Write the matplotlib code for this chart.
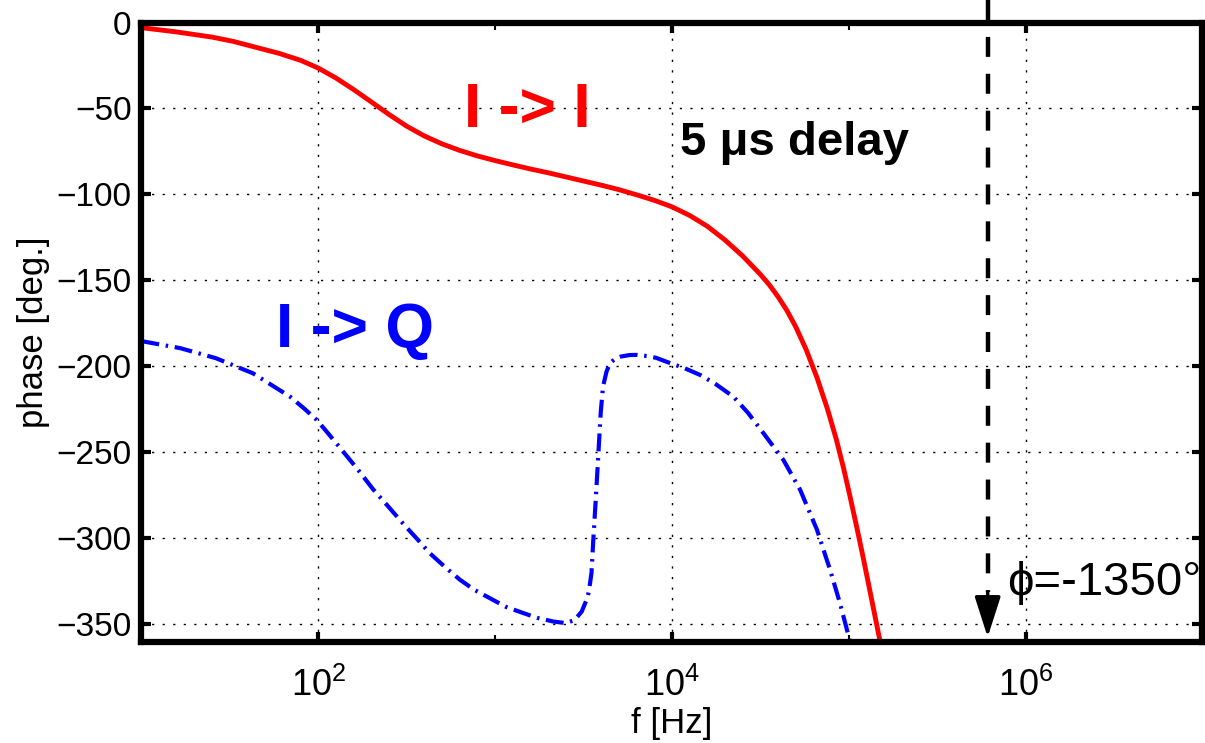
import numpy as np
import matplotlib
matplotlib.use("Agg")
import matplotlib.pyplot as plt
from matplotlib.ticker import FixedLocator, NullFormatter

plt.rcParams['font.family'] = ['Liberation Sans', 'DejaVu Sans']
plt.rcParams['mathtext.fontset'] = 'custom'
plt.rcParams['mathtext.rm'] = 'Liberation Sans'
plt.rcParams['mathtext.it'] = 'Liberation Sans'

# I -> I phase, log10(f) and degrees
ii_logf = [1.0, 1.2, 1.4, 1.52, 1.65, 1.78, 1.9, 2.0, 2.1, 2.2, 2.3, 2.4, 2.5, 2.6,
           2.7, 2.8, 2.9, 3.0, 3.1, 3.2, 3.3, 3.4, 3.5, 3.6, 3.7, 3.8, 3.9, 4.0,
           4.1, 4.2, 4.3, 4.4, 4.5, 4.55, 4.6, 4.65, 4.7, 4.76, 4.82, 4.88, 4.93, 4.97,
           5.007, 5.045, 5.083, 5.13, 5.177]
ii_phase = [-3, -5.5, -8.5, -11, -14.5, -18, -22, -26.5, -32.3, -39, -46.2, -53.5, -60.3, -66,
            -70.6, -74.4, -77.6, -80.3, -82.8, -85.2, -87.4, -89.8, -92.2, -94.6, -97.2, -100.2, -103.4, -107.2,
            -112.2, -118.5, -126.5, -135.8, -146.5, -152.5, -159.5, -167.5, -177, -190.5, -206.5, -225, -242.7,
            -259, -275.7, -293.5, -312, -336, -360]

# I -> Q phase
iq_logf = [1.0, 1.22, 1.42, 1.63, 1.84, 1.92, 1.99, 2.06, 2.14, 2.22, 2.31, 2.40, 2.48,
           2.56, 2.63, 2.72, 2.80, 2.88, 2.97, 3.06, 3.16, 3.24, 3.33, 3.40, 3.45, 3.49,
           3.52, 3.53, 3.545, 3.555, 3.57, 3.584, 3.597, 3.61, 3.63, 3.65, 3.68, 3.71, 3.76,
           3.80, 3.86, 3.91, 3.99, 4.07, 4.16, 4.25, 4.347, 4.43, 4.517, 4.63, 4.725, 4.82,
           4.894, 4.95, 5.007]
iq_phase = [-185.3, -189.4, -195.2, -204, -217.6, -224.5, -231, -239.5, -249.5, -259.5, -271.5, -282, -291.5,
            -300.5, -308.6, -317, -324, -329.8, -334.8, -339.8, -343.5, -346.3, -348.4, -349.3, -347.5, -342.5,
            -335, -331, -320, -301, -275.7, -250.5, -227, -211.7, -203, -198, -195.5, -194.3, -193.4,
            -193.3, -194, -195, -198.1, -201, -205, -210.5, -217.6, -227, -238.8, -254.4, -271.8, -295,
            -318.3, -337.7, -360]

delay_f = 6.1e5
delay_top = 13.0
delay_end = -331.0
arrow_tip = -357.5

yticks = [-350, -300, -250, -200, -150, -100, -50, 0]
xticks = [1e2, 1e4, 1e6]
xtick_labels = ['$10^{2}$', '$10^{4}$', '$10^{6}$']
xminor = [1e1, 1e3, 1e5]

fig = plt.figure(figsize=(12.05, 7.43), dpi=100)
ax = fig.add_axes([0.1174, 0.1366, 0.8805, 0.8331])

ax.plot(10 ** np.array(ii_logf), ii_phase, color='red', lw=3.5, solid_capstyle='butt')
ax.plot(10 ** np.array(iq_logf), iq_phase, color='blue', lw=3.0,
        linestyle=(0, (4.3, 1.6, 0.6, 1.6)))

# 5 us delay marker
ax.plot([delay_f, delay_f], [delay_top, delay_end], color='black', lw=3.2,
        linestyle=(0, (4.5, 3.8)), clip_on=False)
ax.annotate('', xy=(delay_f, arrow_tip), xytext=(delay_f, delay_end),
            arrowprops=dict(arrowstyle='-|>,head_length=0.5,head_width=0.16', mutation_scale=50,
                            color='black', lw=2.5, shrinkA=0, shrinkB=0))

ax.set_xscale('log')
ax.set_xlim(10, 1e7)
ax.set_ylim(-360, 0)
ax.set_xticks(xticks)
ax.set_xticklabels(xtick_labels)
ax.xaxis.set_minor_locator(FixedLocator(xminor))
ax.xaxis.set_minor_formatter(NullFormatter())
ax.set_yticks(yticks)

ax.grid(True, which='major', color='black', lw=1.0, linestyle=(0, (1.6, 6.0)))
ax.tick_params(which='major', direction='in', length=7, width=3, top=True, right=True,
               labelsize=24, pad=7)
ax.tick_params(axis='x', which='major', labelsize=26, pad=19)
ax.tick_params(which='minor', direction='in', length=5, width=1.5, top=True, right=True)
for s in ax.spines.values():
    s.set_linewidth(4.5)

ax.set_xlabel('f [Hz]', fontsize=25, labelpad=2)
ax.set_ylabel('phase [deg.]', fontsize=25, labelpad=5)

ax.text(667, -60.8, 'I -> I', color='red', fontsize=45, fontweight='bold',
        ha='left', va='baseline')
ax.text(57.7, -188.7, 'I -> Q', color='blue', fontsize=45, fontweight='bold',
        ha='left', va='baseline')
ax.text(1.11e4, -77, '5 μs delay', color='black', fontsize=34, fontweight='bold',
        ha='left', va='baseline')
ax.text(7.87e5, -333, 'ϕ=-1350°', color='black', fontsize=34,
        ha='left', va='baseline')

fig.savefig('out.png', dpi=100)
